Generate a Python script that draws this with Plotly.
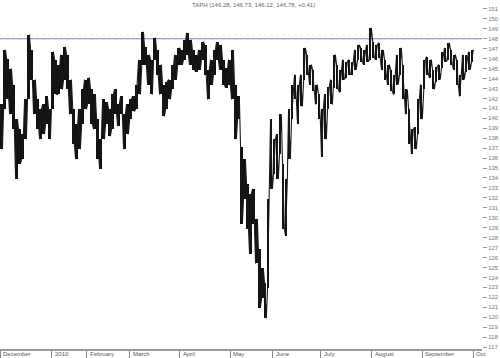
import plotly.graph_objects as go

# Approximate high/low of each (roughly two-day) bar
high = [141.4, 146.9, 146.0, 145.0, 143.4, 139.9, 138.9, 138.4, 141.9, 148.4,
        146.9, 143.9, 141.9, 140.9, 141.4, 142.2, 140.9, 146.7, 145.9, 145.4,
        146.4, 147.2, 146.4, 143.9, 140.9, 139.4, 140.9, 142.9, 143.9, 144.1,
        142.9, 142.4, 139.9, 137.9, 141.9, 141.6, 140.9, 142.4, 142.9, 141.4,
        142.2, 140.4, 141.4, 141.9, 142.2, 143.4, 145.9, 148.7, 147.2, 146.4,
        145.9, 148.1, 146.9, 145.4, 143.4, 143.7, 143.9, 145.4, 146.4, 147.1,
        146.9, 147.9, 148.6, 147.9, 146.9, 146.4, 146.9, 147.7, 147.4, 144.9,
        145.9, 146.9, 147.7, 147.4, 145.9, 145.1, 145.9, 146.9, 143.4, 142.2,
        137.1, 135.9, 133.4, 132.4, 132.9, 129.9, 126.9, 124.9, 123.4, 131.9,
        139.9, 137.9, 138.4, 140.4, 135.4, 133.9, 140.9, 143.4, 144.4, 143.4,
        144.4, 147.1, 146.4, 145.4, 144.9, 143.4, 142.4, 140.9, 142.4, 143.2,
        143.9, 146.4, 145.4, 144.9, 145.9, 145.7, 145.9, 145.7, 146.9, 147.4,
        147.1, 146.9, 147.4, 149.1, 147.7, 147.4, 147.6, 146.9, 145.9, 145.4,
        144.9, 144.4, 146.4, 147.1, 145.4, 142.9, 140.9, 138.9, 139.1, 141.9,
        143.4, 145.9, 146.2, 145.9, 144.9, 145.2, 145.4, 146.7, 147.1, 147.6,
        146.9, 146.4, 145.9, 144.4, 146.4, 146.4, 146.7, 146.9]
low = [136.9, 140.9, 141.9, 140.4, 138.9, 133.9, 135.4, 135.9, 137.9, 141.9,
       143.9, 140.4, 138.9, 137.9, 138.4, 139.4, 137.9, 140.9, 142.4, 142.4,
       142.9, 143.9, 142.9, 140.4, 137.4, 135.9, 136.9, 139.4, 140.9, 141.4,
       139.4, 138.9, 135.9, 134.9, 137.9, 139.4, 138.2, 138.9, 140.4, 139.2,
       140.4, 136.9, 138.4, 139.9, 140.7, 140.9, 142.4, 145.4, 145.4, 143.4,
       142.4, 145.9, 144.4, 142.4, 140.2, 140.9, 141.9, 142.9, 143.9, 145.4,
       145.4, 145.9, 146.4, 145.4, 144.9, 144.7, 144.9, 145.9, 144.4, 141.9,
       143.4, 144.4, 145.9, 144.9, 143.4, 143.1, 143.4, 141.9, 137.9, 139.9,
       129.4, 131.9, 128.9, 126.4, 129.4, 125.4, 120.9, 121.9, 119.9, 122.9,
       132.9, 134.4, 133.9, 136.4, 128.9, 128.2, 135.9, 139.9, 141.9, 139.4,
       141.2, 143.9, 144.4, 143.4, 142.7, 141.4, 139.9, 136.1, 137.9, 140.9,
       141.4, 143.1, 142.9, 142.6, 143.9, 144.1, 144.4, 144.4, 144.9, 145.9,
       145.7, 145.4, 145.7, 145.9, 146.1, 145.9, 146.1, 144.9, 143.9, 143.4,
       142.7, 142.4, 143.4, 144.4, 141.9, 140.4, 137.4, 136.4, 136.9, 138.4,
       139.9, 142.9, 144.4, 144.1, 142.9, 143.7, 143.9, 145.1, 145.7, 145.9,
       145.4, 144.9, 143.4, 142.2, 143.9, 144.7, 144.9, 145.7]

month_labels = ["December", "2010", "February", "March", "April", "May",
                "June", "July", "August", "September", "Oct"]
month_pos = [-0.5, 16.8, 28.5, 42.8, 59.5, 76.2, 90.5, 106.5, 123.5, 140.2, 157.2]

y_ticks = list(range(117, 152))
ref_level = 148
title_text = "TAPH (146.28, 146.73, 146.12, 146.78, +0.41)"

idx = list(range(len(high)))
span = [h - l for h, l in zip(high, low)]

# zig-zag path through each bar's high and low (gives the dense bar look)
zx, zy = [], []
for i, h, l in zip(idx, high, low):
    zx += [i - 0.3, i + 0.3]
    zy += [h, l] if i % 2 == 0 else [l, h]

fig = go.Figure()
fig.add_trace(go.Bar(x=idx, base=low, y=span, width=0.7,
                     marker=dict(color="#111111", line=dict(width=0)),
                     hoverinfo="skip", showlegend=False))
fig.add_trace(go.Scatter(x=zx, y=zy, mode="lines",
                         line=dict(color="#1a1a1a", width=1.1),
                         hoverinfo="skip", showlegend=False))

fig.add_shape(type="line", xref="paper", x0=0, x1=1, y0=ref_level + 0.4,
              y1=ref_level + 0.4, line=dict(color="#ece6b8", width=1, dash="dot"),
              layer="below")
fig.add_shape(type="line", xref="paper", x0=0, x1=1, y0=ref_level, y1=ref_level,
              line=dict(color="#7c7cc4", width=1), layer="below")

for lab, pos in zip(month_labels, month_pos):
    fig.add_annotation(x=pos, y=0, xref="x", yref="paper", text=lab,
                       showarrow=False, xanchor="left", yanchor="top",
                       xshift=1, yshift=0,
                       font=dict(family="Liberation Sans", size=6, color="#555555"))

fig.add_annotation(x=0.525, y=1, xref="paper", yref="paper", text=title_text,
                   showarrow=False, xanchor="center", yanchor="top", yshift=0,
                   font=dict(family="Liberation Sans", size=6, color="#666666"))

fig.update_layout(
    width=500, height=358,
    margin=dict(l=0, r=18, t=0, b=9),
    paper_bgcolor="white", plot_bgcolor="white",
    bargap=0,
    font=dict(family="Liberation Sans", size=6, color="#666666"),
    xaxis=dict(range=[-0.5, 160.2], tickvals=month_pos, ticktext=[""] * len(month_pos),
               ticks="outside", ticklen=8, tickcolor="#888888", showgrid=False,
               zeroline=False, showline=True, linecolor="#999999", linewidth=2),
    yaxis=dict(side="right", range=[116.8, 151.9], tickvals=y_ticks,
               ticks="outside", ticklen=4, tickcolor="#999999", showgrid=False,
               zeroline=False, showline=False,
               tickfont=dict(family="Liberation Sans", size=6, color="#777777")),
)

fig.write_html("out.html")
